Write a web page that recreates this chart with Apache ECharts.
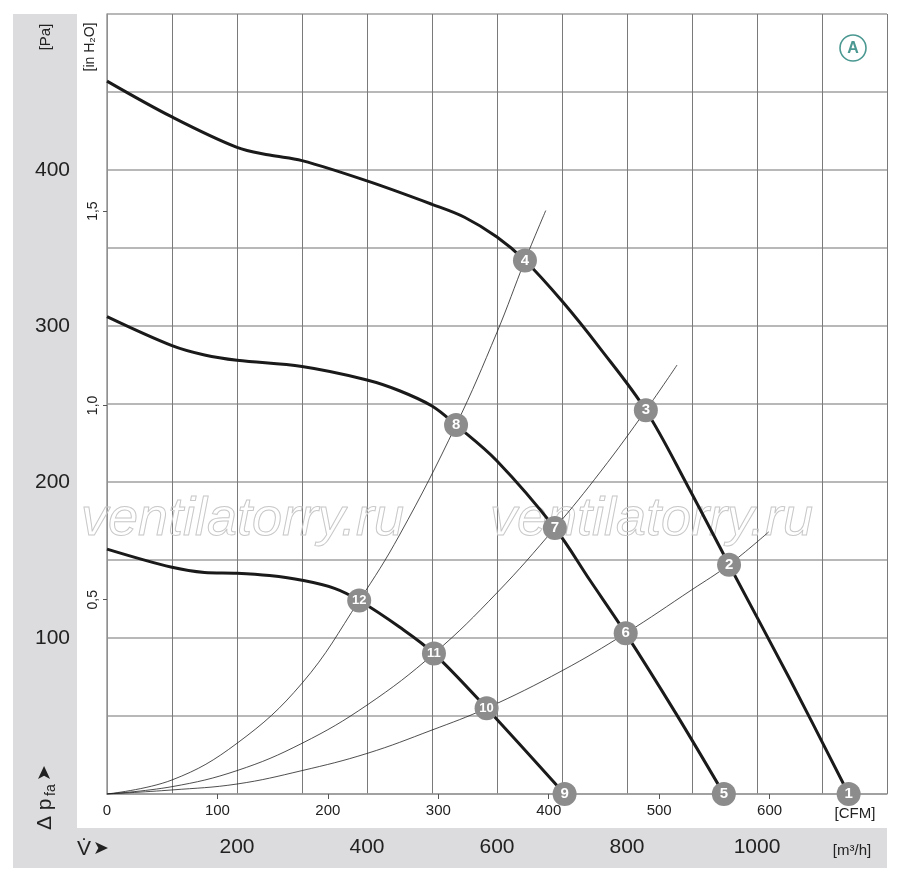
<!DOCTYPE html>
<html><head><meta charset="utf-8">
<script src="https://cdn.jsdelivr.net/npm/echarts@6/dist/echarts.min.js"></script>
<style>html,body{margin:0;padding:0;background:#fff}#c{width:900px;height:880px}</style>
</head><body><div id="c"></div>
<script>
// Fan curves (flow in m³/h, pressure in Pa)
const fanA_flow = [0,100,200,250,300,400,500,550,600,643,700,758,829,894,957,1050,1141];
const fanA_pa   = [457,434,414.5,409.6,406,393,378,369.7,357,342,316,286,246,197,147,74,0];
const fanB_flow = [0,100,150,200,300,400,450,500,537,600,689,743,798,874,949];
const fanB_pa   = [306,287.4,281.4,278,274,265.4,258.5,248.7,236.5,213.5,170.5,137,103,52.5,0];
const fanC_flow = [0,100,150,200,250,300,350,388,450,503,584,704];
const fanC_pa   = [157,145.3,142,141.5,140,137,131.8,124,107,90,55,0];
// System curves
const sysA_flow = [0,100,200,300,388,450,537,600,643,675];
const sysA_pa   = [0,9,32.5,71,124,166,236.5,296,342,374];
const sysB_flow = [0,100,200,300,400,503,600,689,760,829,877];
const sysB_pa   = [0,4.7,15,32.5,57,90,129,170.5,207,246,275];
const sysC_flow = [0,100,200,300,400,500,584,700,798,900,957,1018];
const sysC_pa   = [0,2.6,6.4,15,26,41,55,79,103,131,147,168];
// Operating points
const pt_flow  = [1141,957,829,643,949,798,689,537,704,584,503,388];
const pt_pa    = [0,147,246,342,0,103,170.5,236.5,0,55,90,124];
const pt_label = ['1','2','3','4','5','6','7','8','9','10','11','12'];
// Axis ticks
const m3h_ticks = [200,400,600,800,1000];
const pa_ticks = [100,200,300,400];
const inh2o_ticks = [0.5,1.0,1.5];
const cfm_ticks = [0,100,200,300,400,500,600];
const cfm_tick_marks = [100,200,300,400,500,600];

const FONT = "'Liberation Sans Narrow','Liberation Sans',sans-serif";
const CFM_PER_M3H = 1/1.699;
const PA_PER_INH2O = 249.089;

const zip = (a,b) => a.map((v,i)=>[v,b[i]]);
const fanLine = (x,y) => ({type:'line', xAxisIndex:0, yAxisIndex:0, data:zip(x,y), smooth:0.35, symbol:'none',
  lineStyle:{color:'#1a1a1a', width:3}, z:3});
const sysLine = (x,y) => ({type:'line', xAxisIndex:0, yAxisIndex:0, data:zip(x,y), smooth:0.4, symbol:'none',
  lineStyle:{color:'#222', width:0.8}, z:2});

const chart = echarts.init(document.getElementById('c'));
chart.setOption({
  animation:false,
  backgroundColor:'#fff',
  textStyle:{fontFamily:FONT},
  grid:{left:107, right:13, top:14, bottom:86, containLabel:false},
  xAxis:[
    {type:'value', min:0, max:1200, interval:100, position:'bottom',
     axisLine:{show:true, lineStyle:{color:'#999', width:1.5}}, axisTick:{show:false}, axisLabel:{show:false},
     splitLine:{show:true, lineStyle:{color:'#7a7a7a', width:1}}},
    {type:'value', min:0, max:1200*CFM_PER_M3H, interval:100, position:'bottom',
     axisLine:{show:false}, axisTick:{show:true, length:5, lineStyle:{color:'#555'}, customValues:cfm_tick_marks},
     axisLabel:{show:true, margin:9, fontSize:15, color:'#222', fontFamily:FONT, customValues:cfm_ticks,
       formatter:v => String(Math.round(v))},
     splitLine:{show:false}},
    {type:'value', min:0, max:1200, interval:200, position:'bottom',
     axisLine:{show:false}, axisTick:{show:false},
     axisLabel:{show:true, margin:43, fontSize:21, color:'#222', fontFamily:FONT, customValues:m3h_ticks,
       formatter:v => String(v)},
     splitLine:{show:false}}
  ],
  yAxis:[
    {type:'value', min:0, max:500, interval:50, position:'left',
     axisLine:{show:true, lineStyle:{color:'#999', width:1.5}}, axisTick:{show:false},
     axisLabel:{show:true, margin:37, fontSize:21, color:'#222', fontFamily:FONT, customValues:pa_ticks,
       formatter:v => String(v)},
     splitLine:{show:true, lineStyle:{color:'#a0a0a0', width:1.5}}},
    {type:'value', min:0, max:500/PA_PER_INH2O, interval:0.5, position:'left',
     axisLine:{show:false}, axisTick:{show:true, length:4, lineStyle:{color:'#555'}, customValues:inh2o_ticks},
     axisLabel:{show:true, margin:7, rotate:90, fontSize:14, color:'#222', fontFamily:FONT, customValues:inh2o_ticks,
       formatter:v => v.toFixed(1).replace('.',',')},
     splitLine:{show:false}}
  ],
  graphic:[
    {type:'rect', z:-10, shape:{x:13, y:14, width:64, height:814}, style:{fill:'#dcdcde'}},
    {type:'rect', z:-10, shape:{x:13, y:828, width:874, height:40}, style:{fill:'#dcdcde'}},
    {type:'text', z:1, x:81, y:520, style:{text:'ventilatorry.ru', font:"italic 54px 'Liberation Sans',sans-serif",
      fill:'rgba(255,255,255,0)', stroke:'#c8c8c8', lineWidth:1, textVerticalAlign:'middle', textAlign:'left'}},
    {type:'text', z:1, x:490, y:520, style:{text:'ventilatorry.ru', font:"italic 54px 'Liberation Sans',sans-serif",
      fill:'rgba(255,255,255,0)', stroke:'#c8c8c8', lineWidth:1, textVerticalAlign:'middle', textAlign:'left'}},
    {type:'text', z:5, x:46, y:37, rotation:Math.PI/2, style:{text:'[Pa]', font:"15px "+FONT, fill:'#222', textAlign:'center', textVerticalAlign:'middle'}},
    {type:'text', z:5, x:90, y:47, rotation:Math.PI/2, style:{text:'[in H₂O]', font:"14px "+FONT, fill:'#222', textAlign:'center', textVerticalAlign:'middle'}},
    {type:'group', z:5, x:45, y:797, rotation:Math.PI/2, children:[
      {type:'text', x:-33, y:0, style:{text:'Δ p', font:"21px "+FONT, fill:'#222', textAlign:'left', textVerticalAlign:'middle'}},
      {type:'text', x:1, y:6, style:{text:'fa', font:"14px "+FONT, fill:'#222', textAlign:'left', textVerticalAlign:'middle'}},
      {type:'text', x:16, y:0, style:{text:'➤', font:"19px 'DejaVu Sans',sans-serif", fill:'#222', textAlign:'left', textVerticalAlign:'middle'}}
    ]},
    {type:'text', z:5, x:77, y:849, style:{text:'V̇', font:"21px "+FONT, fill:'#222', textAlign:'left', textVerticalAlign:'middle'}},
    {type:'text', z:5, x:93, y:849, style:{text:'➤', font:"19px 'DejaVu Sans',sans-serif", fill:'#222', textAlign:'left', textVerticalAlign:'middle'}},
    {type:'text', z:5, x:855, y:814, style:{text:'[CFM]', font:"15px "+FONT, fill:'#222', textAlign:'center', textVerticalAlign:'middle'}},
    {type:'text', z:5, x:852, y:851, style:{text:'[m³/h]', font:"15px "+FONT, fill:'#222', textAlign:'center', textVerticalAlign:'middle'}},
    {type:'circle', z:5, shape:{cx:853, cy:48, r:13}, style:{fill:'#fff', stroke:'#4a9891', lineWidth:1.6}},
    {type:'text', z:6, x:853, y:49, style:{text:'A', font:"bold 16px "+FONT, fill:'#4a9891', textAlign:'center', textVerticalAlign:'middle'}}
  ],
  series:[
    sysLine(sysA_flow, sysA_pa),
    sysLine(sysB_flow, sysB_pa),
    sysLine(sysC_flow, sysC_pa),
    fanLine(fanA_flow, fanA_pa),
    fanLine(fanB_flow, fanB_pa),
    fanLine(fanC_flow, fanC_pa),
    {type:'scatter', xAxisIndex:0, yAxisIndex:0, z:6, symbolSize:24,
     itemStyle:{color:'#8c8c8c', opacity:1},
     data:pt_flow.map((v,i)=>({value:[v,pt_pa[i]], name:pt_label[i],
       label:{fontSize: pt_label[i].length>1 ? 13 : 15, letterSpacing: pt_label[i].length>1 ? -1 : 0}})),
     label:{show:true, position:'inside', formatter:p=>p.name, color:'#fff', fontWeight:'bold', fontSize:15, fontFamily:FONT}}
  ]
});
</script></body></html>
